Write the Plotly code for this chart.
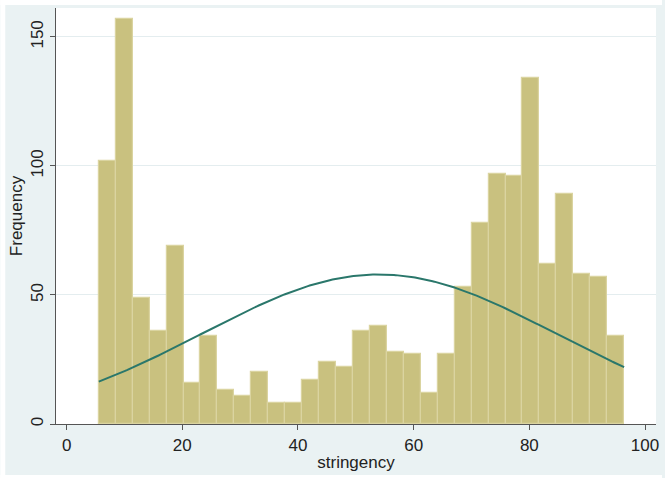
import numpy as np
import plotly.graph_objects as go

# Histogram of the stringency index: 31 equal-width bins
BIN_START = 5.56
BIN_WIDTH = 2.93
counts = [102, 157, 49, 36, 69, 16, 34, 13, 11, 20, 8, 8, 17, 24, 22, 36,
          38, 28, 27, 12, 27, 53, 78, 97, 96, 134, 62, 89, 58, 57, 34]

# Normal density overlay parameters (mean and s.d. of stringency)
MEAN_STRINGENCY = 54.0
SD_STRINGENCY = 30.5

x_ticks = [0, 20, 40, 60, 80, 100]
y_ticks = [0, 50, 100, 150]

BAR_FILL = "#C9C17F"
BAR_EDGE = "#DAD4A0"
CURVE = "#2A776B"
REGION = "#EAF2F3"
AXIS = "#555555"

n_bins = len(counts)
centers = [BIN_START + BIN_WIDTH * (i + 0.5) for i in range(n_bins)]
total = sum(counts)
x_lo = BIN_START
x_hi = BIN_START + BIN_WIDTH * n_bins

xs = np.linspace(x_lo, x_hi, 300)
dens = np.exp(-0.5 * ((xs - MEAN_STRINGENCY) / SD_STRINGENCY) ** 2) / (SD_STRINGENCY * np.sqrt(2 * np.pi))
freq_curve = dens * total * BIN_WIDTH

fig = go.Figure()
fig.add_trace(go.Bar(
    x=centers, y=counts, width=BIN_WIDTH,
    marker=dict(color=BAR_FILL, line=dict(color=BAR_EDGE, width=1.2)),
    hoverinfo="x+y", showlegend=False,
))
fig.add_trace(go.Scatter(
    x=xs, y=freq_curve, mode="lines",
    line=dict(color=CURVE, width=2), showlegend=False, hoverinfo="skip",
))

W, H = 665, 478
ml, mr, mt, mb = 56, 6, 8, 54
pw, ph = W - ml - mr, H - mt - mb

def px_to_paper_x(px):
    return (px - ml) / pw

def px_to_paper_y(py):
    return (H - mb - py) / ph

shapes = [
    # white border strips around the shaded graph region
    dict(type="rect", xref="paper", yref="paper", layer="below",
         x0=px_to_paper_x(0), x1=px_to_paper_x(5), y0=px_to_paper_y(H), y1=px_to_paper_y(0),
         fillcolor="white", line=dict(width=0)),
    dict(type="rect", xref="paper", yref="paper", layer="below",
         x0=px_to_paper_x(0), x1=px_to_paper_x(W), y0=px_to_paper_y(5), y1=px_to_paper_y(0),
         fillcolor="white", line=dict(width=0)),
    dict(type="rect", xref="paper", yref="paper", layer="below",
         x0=px_to_paper_x(0), x1=px_to_paper_x(W), y0=px_to_paper_y(H), y1=px_to_paper_y(475),
         fillcolor="white", line=dict(width=0)),
]

font = dict(family="Liberation Sans, Arial, sans-serif", size=17, color="#222222")

fig.update_layout(
    width=W, height=H,
    margin=dict(l=ml, r=mr, t=mt, b=mb, pad=0),
    paper_bgcolor=REGION, plot_bgcolor="white",
    font=font, bargap=0, shapes=shapes,
    xaxis=dict(
        range=[-1.84, 101.9], tickvals=x_ticks, ticks="outside", ticklen=5,
        tickcolor=AXIS, showline=True, linecolor=AXIS, linewidth=1.3,
        showgrid=False, zeroline=False,
        title=dict(text="stringency", standoff=2, font=font),
        tickfont=font,
    ),
    yaxis=dict(
        range=[0, 161.2], tickvals=y_ticks, ticks="outside", ticklen=5,
        tickcolor=AXIS, showline=True, linecolor=AXIS, linewidth=1.3,
        showgrid=True, gridcolor="#E4EDEF", gridwidth=1, zeroline=False,
        tickangle=-90,
        title=dict(text="Frequency", standoff=1, font=font),
        tickfont=font,
    ),
)

fig.write_html("out.html")
